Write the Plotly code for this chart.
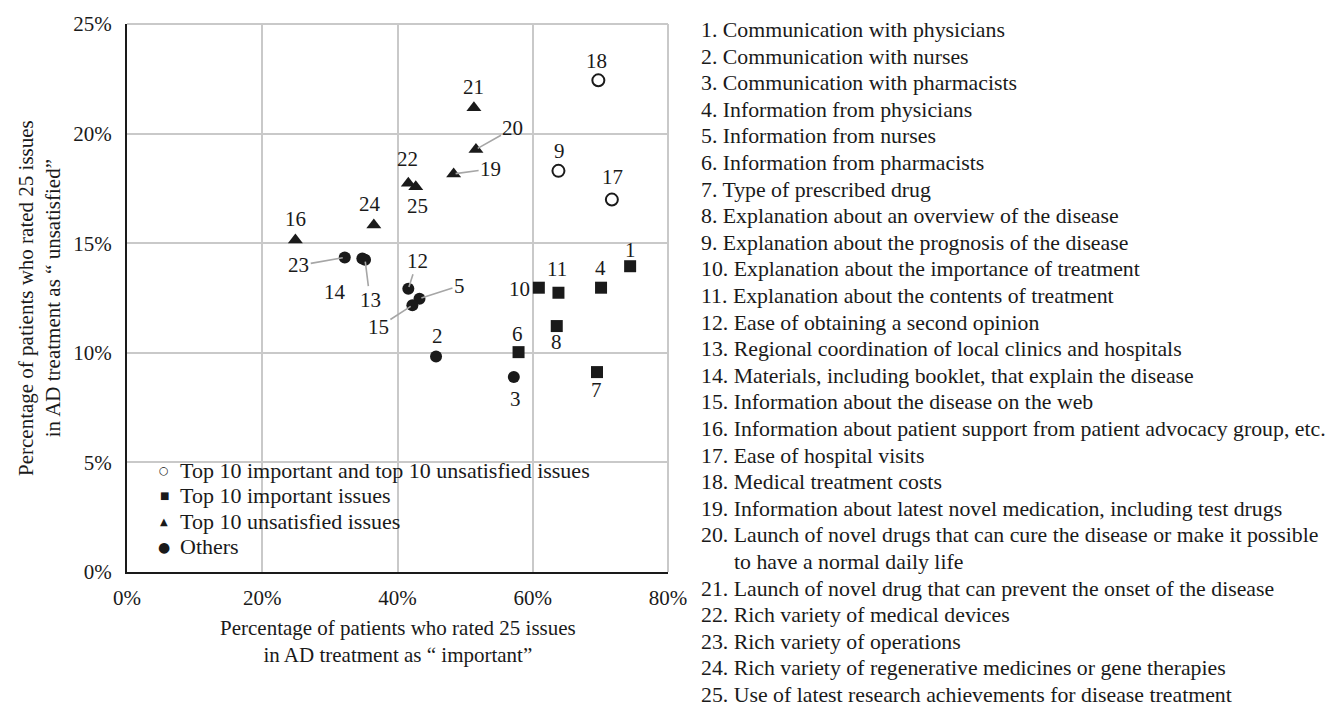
import plotly.graph_objects as go

# ---------------- data ----------------
issue_no = list(range(1, 26))
issue_names = [
    "Communication with physicians",
    "Communication with nurses",
    "Communication with pharmacists",
    "Information from physicians",
    "Information from nurses",
    "Information from pharmacists",
    "Type of prescribed drug",
    "Explanation about an overview of the disease",
    "Explanation about the prognosis of the disease",
    "Explanation about the importance of treatment",
    "Explanation about the contents of treatment",
    "Ease of obtaining a second opinion",
    "Regional coordination of local clinics and hospitals",
    "Materials, including booklet, that explain the disease",
    "Information about the disease on the web",
    "Information about patient support from patient advocacy group, etc.",
    "Ease of hospital visits",
    "Medical treatment costs",
    "Information about latest novel medication, including test drugs",
    "Launch of novel drugs that can cure the disease or make it possible to have a normal daily life",
    "Launch of novel drug that can prevent the onset of the disease",
    "Rich variety of medical devices",
    "Rich variety of operations",
    "Rich variety of regenerative medicines or gene therapies",
    "Use of latest research achievements for disease treatment",
]
important_pct = [74.4, 45.7, 57.2, 70.1, 43.25, 57.9, 69.5, 63.55, 63.8, 60.9,
                 63.8, 41.6, 35.2, 34.8, 42.2, 24.9, 71.7, 69.7, 48.3, 51.6,
                 51.3, 41.6, 32.2, 36.5, 42.7]
unsatisfied_pct = [13.95, 9.83, 8.9, 12.97, 12.47, 10.03, 9.12, 11.22, 18.3, 12.97,
                   12.74, 12.92, 14.25, 14.3, 12.17, 15.15, 16.99, 22.43, 18.16, 19.28,
                   21.18, 17.74, 14.35, 15.83, 17.58]
group_names = [
    "Top 10 important and top 10 unsatisfied issues",
    "Top 10 important issues",
    "Top 10 unsatisfied issues",
    "Others",
]
issue_group = [1, 3, 3, 1, 3, 1, 1, 1, 0, 1,
               1, 3, 3, 3, 3, 2, 0, 0, 2, 2,
               2, 2, 3, 2, 2]
x_ticks = [0, 20, 40, 60, 80]
y_ticks = [0, 5, 10, 15, 20, 25]
x_title = "Percentage of patients who rated 25 issues<br>in AD treatment as \u201c important\u201d"
y_title = "Percentage of patients who rated 25 issues<br>in AD treatment as \u201c unsatisfied\u201d"

# ---------------- styling ----------------
FONT = "Liberation Serif"
INK = "#1a1a1a"
GRID = "#c9c9c9"
LEADER = "#a6a6a6"
W, H = 1338, 710
ML, MR, MT, MB = 127, 670, 19, 138
PW, PH = W - ML - MR, H - MT - MB

# marker styles per group: (symbol, size)
marker_styles = [("circle-open", 12), ("square", 12), ("triangle-up", 13), ("circle", 12)]
legend_glyphs = [("\u25CB", 11), ("\u25A0", 10), ("\u25B2", 10), ("\u25CF", 14)]
legend_rows_px = [470, 495.5, 521, 546.5]   # vertical pixel centres of legend rows
legend_box_px = (143, 615, 455, 558)        # left, right, top, bottom

# label placement (pixel offsets): plain labels (dx, dy_up)
plain_offsets = {1: (0, 16), 2: (1, 21), 3: (2, -22), 4: (-1, 20), 6: (-1, 18),
                 7: (0, -18), 8: (0, -16), 9: (1, 20), 10: (-19, -1), 11: (-1, 24),
                 14: (-27, -33), 16: (0, 21), 17: (1, 23), 18: (-2, 19), 21: (0, 21),
                 22: (-1, 24), 24: (-4, 21), 25: (2, -19)}
# labels with leader lines: (ax, ay) text offset, ay positive = down
leader_offsets = {5: (40, -13), 12: (9, -28), 13: (5, 40), 15: (-34, 22),
                  19: (37, -5), 20: (37, -21), 23: (-46, 8)}

fig = go.Figure()

for g, gname in enumerate(group_names):
    xs = [important_pct[i] for i in range(25) if issue_group[i] == g]
    ys = [unsatisfied_pct[i] for i in range(25) if issue_group[i] == g]
    sym, sz = marker_styles[g]
    marker = dict(symbol=sym, size=sz, color=INK)
    if sym == "circle-open":
        marker["line"] = dict(width=2, color=INK)
    fig.add_trace(go.Scatter(x=xs, y=ys, mode="markers", marker=marker, name=gname,
                             showlegend=False, hoverinfo="skip", cliponaxis=False))

annotations = []
for i in range(25):
    n = issue_no[i]
    if n in plain_offsets:
        dx, dy = plain_offsets[n]
        annotations.append(dict(x=important_pct[i], y=unsatisfied_pct[i], xref="x", yref="y",
                                text=str(n), showarrow=False, xshift=dx, yshift=dy,
                                font=dict(family=FONT, size=21, color=INK)))
    else:
        ax, ay = leader_offsets[n]
        annotations.append(dict(x=important_pct[i], y=unsatisfied_pct[i], xref="x", yref="y",
                                text=str(n), showarrow=True, arrowhead=0, arrowwidth=1.6,
                                arrowcolor=LEADER, ax=ax, ay=ay, standoff=2,
                                font=dict(family=FONT, size=21, color=INK)))

# axis titles
annotations.append(dict(x=0.5, y=0, xref="paper", yref="paper", text=x_title,
                        showarrow=False, xanchor="center", yanchor="middle", yshift=-69,
                        font=dict(family=FONT, size=21, color=INK)))
annotations.append(dict(x=0, y=0.5, xref="paper", yref="paper", text=y_title,
                        showarrow=False, xanchor="center", yanchor="middle", xshift=-88,
                        textangle=-90, font=dict(family=FONT, size=21, color=INK)))

# in-plot legend (glyph + text rows)
bottom_px = MT + PH
for (glyph, gsize), gname, ypx in zip(legend_glyphs, group_names, legend_rows_px):
    annotations.append(dict(x=0, y=0, xref="paper", yref="paper", text=glyph,
                            showarrow=False, xanchor="center", yanchor="middle",
                            xshift=164 - ML, yshift=bottom_px - ypx,
                            font=dict(family="DejaVu Sans", size=gsize, color=INK)))
    annotations.append(dict(x=0, y=0, xref="paper", yref="paper", text=gname,
                            showarrow=False, xanchor="left", yanchor="middle",
                            xshift=178 - ML, yshift=bottom_px - ypx,
                            font=dict(family=FONT, size=22, color=INK)))

# numbered list on the right
list_lines = []
for n, name in zip(issue_no, issue_names):
    if n == 20:
        cut = name.index(" to have")
        list_lines.append((f"{n}. {name[:cut]}", 0))
        list_lines.append((name[cut + 1:], 33))
    else:
        list_lines.append((f"{n}. {name}", 0))
for k, (txt, indent) in enumerate(list_lines):
    ypx = 25 + 26.6 * k
    annotations.append(dict(x=1, y=1, xref="paper", yref="paper", text=txt,
                            showarrow=False, xanchor="left", yanchor="middle",
                            xshift=31 + indent, yshift=-(ypx - MT),
                            font=dict(family=FONT, size=21.8, color=INK)))

lb, rb, tb, bb = legend_box_px
shapes = [
    dict(type="rect", xref="paper", yref="paper",
         x0=(lb - ML) / PW, x1=(rb - ML) / PW,
         y0=(bottom_px - bb) / PH, y1=(bottom_px - tb) / PH,
         fillcolor="white", line=dict(width=0), layer="between"),
    dict(type="line", xref="paper", yref="paper", x0=1, x1=1, y0=0, y1=1,
         line=dict(color=GRID, width=2), layer="below"),
    dict(type="line", xref="paper", yref="paper", x0=0, x1=1, y0=1, y1=1,
         line=dict(color=GRID, width=2), layer="below"),
]

fig.update_layout(
    width=W, height=H,
    margin=dict(l=ML, r=MR, t=MT, b=MB),
    paper_bgcolor="white", plot_bgcolor="white",
    font=dict(family=FONT, size=21, color=INK),
    showlegend=False,
    annotations=annotations,
    shapes=shapes,
    xaxis=dict(range=[0, 80], tickvals=x_ticks, ticktext=[f"{v}%" for v in x_ticks],
               showgrid=True, gridcolor=GRID, gridwidth=2, zeroline=False,
               showline=True, linecolor=INK, linewidth=2, ticks="",
               ticklabelstandoff=6, tickfont=dict(family=FONT, size=21, color=INK)),
    yaxis=dict(range=[0, 25], tickvals=y_ticks, ticktext=[f"{v}%" for v in y_ticks],
               showgrid=True, gridcolor=GRID, gridwidth=2, zeroline=False,
               showline=True, linecolor=INK, linewidth=2, ticks="",
               ticklabelstandoff=9, tickfont=dict(family=FONT, size=21, color=INK)),
)

fig.write_html(
    "out.html",
    config={"displayModeBar": False},
    post_script="document.body.style.margin='0';document.body.style.padding='0';"
                "document.documentElement.style.overflow='hidden';document.body.style.overflow='hidden';",
)
